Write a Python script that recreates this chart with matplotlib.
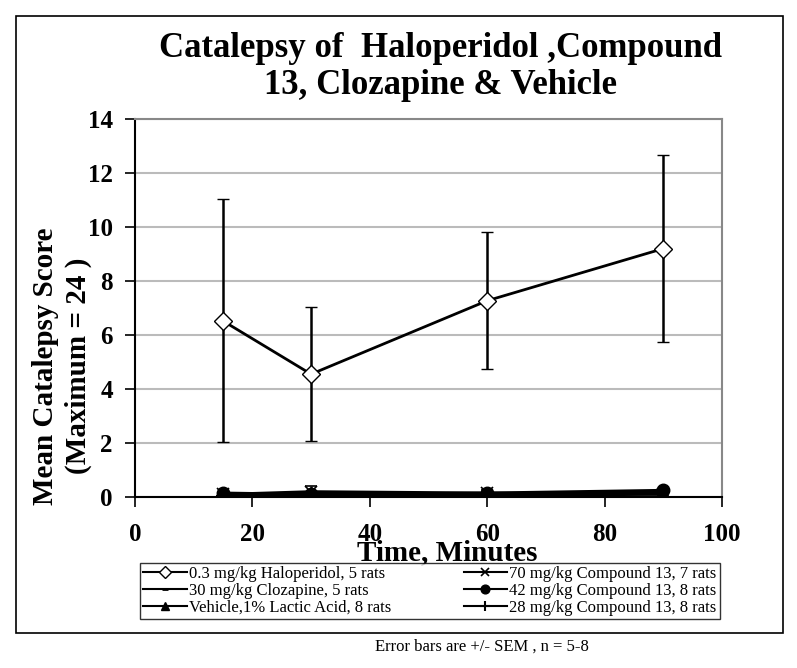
import matplotlib
matplotlib.use("Agg")
import matplotlib.pyplot as plt
from matplotlib.patches import Rectangle
from matplotlib.lines import Line2D

times = [15, 30, 60, 90]
halo = [6.52, 4.55, 7.27, 9.2]
halo_err = [4.5, 2.47, 2.53, 3.47]
cmp70 = [0.1, 0.2, 0.15, 0.1]
cmp70_err = [0.05, 0.2, 0.1, 0.05]
cloz = [0.08, 0.05, 0.1, 0.15]
cmp42 = [0.15, 0.1, 0.15, 0.25]
vehicle = [0.0, 0.0, 0.05, 0.1]
cmp28 = [0.05, 0.05, 0.05, 0.2]

labels = ["0.3 mg/kg Haloperidol, 5 rats", "30 mg/kg Clozapine, 5 rats",
          "Vehicle,1% Lactic Acid, 8 rats", "70 mg/kg Compound 13, 7 rats",
          "42 mg/kg Compound 13, 8 rats", "28 mg/kg Compound 13, 8 rats"]

plt.rcParams['font.family'] = ['Liberation Serif', 'DejaVu Serif']

fig = plt.figure(figsize=(7.97, 6.68), dpi=100)
W, H = 797, 668
ax = fig.add_axes([135 / W, 1 - 497 / H, (722 - 135) / W, (497 - 119) / H])

kw = dict(color='black', lw=2, capsize=4, elinewidth=1.8, capthick=1.8)
styles = [dict(marker='D', ms=9, mfc='white', mec='black', mew=1),
          dict(marker='_', ms=6, mew=2),
          dict(marker='^', ms=9),
          dict(marker='x', ms=9, mew=1.2),
          dict(marker='o', ms=9),
          dict(marker='+', ms=10, mew=1.5)]
ax.errorbar(times, halo, yerr=halo_err, **styles[0], **kw)
ax.plot(times, cloz, color='black', lw=2, **styles[1])
ax.plot(times, vehicle, color='black', lw=2, **styles[2])
ax.errorbar(times, cmp70, yerr=cmp70_err, **styles[3], **kw)
ax.plot(times, cmp42, color='black', lw=2, **styles[4])
ax.plot(times, cmp28, color='black', lw=2, **styles[5])

handles = [Line2D([], [], color='black', lw=1.5, **st) for st in styles]

ax.set_xlim(0, 100)
ax.set_ylim(0, 14)
ax.set_xticks(range(0, 101, 20))
ax.set_yticks(range(0, 15, 2))
ax.tick_params(axis='both', which='major', labelsize=18, direction='out', length=7, width=1.2)
for lab in ax.get_xticklabels() + ax.get_yticklabels():
    lab.set_fontweight('bold')
ax.tick_params(axis='x', pad=12)
ax.tick_params(axis='y', pad=9)
ax.yaxis.grid(True, color='#bbbbbb', lw=1.5)
ax.set_axisbelow(True)
for s in ['top', 'right']:
    ax.spines[s].set_color('#888888')
    ax.spines[s].set_linewidth(1.5)
for s in ['left', 'bottom']:
    ax.spines[s].set_color('black')
    ax.spines[s].set_linewidth(1.5)

fig.text(441 / W, 1 - 67 / H, "Catalepsy of  Haloperidol ,Compound\n13, Clozapine & Vehicle",
         ha='center', va='center', fontsize=25, fontweight='bold', linespacing=1.15)
fig.text(62 / W, 1 - 366 / H, "Mean Catalepsy Score\n(Maximum = 24 )", rotation=90,
         ha='center', va='center', fontsize=21, fontweight='bold', linespacing=1.25)
fig.text(447 / W, 1 - 553 / H, "Time, Minutes", ha='center', va='center',
         fontsize=21, fontweight='bold')
fig.text(482 / W, 1 - 647 / H, "Error bars are +/- SEM , n = 5-8", ha='center', va='center',
         fontsize=12)

leg = fig.legend(handles, labels, ncol=2, loc='lower left', mode='expand',
                 bbox_to_anchor=(140 / W, 1 - 619 / H, 580 / W, 52 / H), fontsize=12,
                 frameon=True, fancybox=False, edgecolor='black', borderpad=0.2,
                 labelspacing=0.05, handlelength=2.6, handletextpad=0.15, markerscale=0.7,
                 borderaxespad=0)
leg.get_frame().set_linewidth(1.0)

fig.patches.append(Rectangle((16 / W, 1 - 633 / H), (783 - 16) / W, (633 - 16) / H,
                             transform=fig.transFigure, fill=False, edgecolor='black', lw=1.2))

fig.savefig("out.png", dpi=100)
